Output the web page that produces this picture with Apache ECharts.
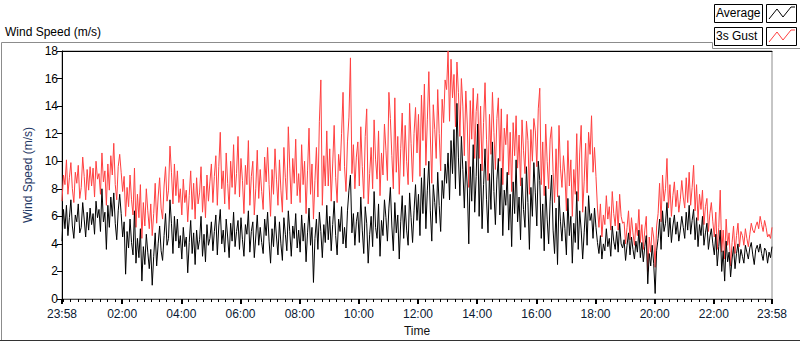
<!DOCTYPE html>
<html>
<head>
<meta charset="utf-8">
<script src="https://cdn.jsdelivr.net/npm/echarts@6/dist/echarts.min.js"></script>
<style>html,body{margin:0;padding:0;background:#fff}#c{width:800px;height:342px}</style>
</head>
<body>
<div id="c"></div>
<script>
// Samples every 3 minutes starting at 23:58 (minute 0) through 23:58 next day (minute 1440)
const startClock = 23 * 60 + 58;
const stepMinutes = 3;
const seriesNames = ['Average', '3s Gust'];
const avgSpeed = [
4.2,6.5,5.1,6.8,4.6,5.9,7.2,5.3,4.4,6.1,5.6,6.9,4.8,5.2,7.0,5.8,4.5,6.3,5.0,6.6,
5.4,6.2,4.7,7.1,5.9,6.5,4.9,8.0,5.6,6.3,3.6,6.8,5.2,7.4,6.0,7.7,5.5,4.3,6.4,7.6,
6.2,4.5,5.6,1.8,4.9,3.7,5.8,4.1,3.2,6.4,2.6,4.4,3.0,5.1,1.3,3.8,2.5,4.7,3.4,2.2,
3.6,1.0,3.1,4.8,2.4,4.0,5.3,3.5,2.8,4.6,6.2,3.9,4.4,7.2,5.5,3.3,6.0,4.2,5.8,3.7,
4.6,2.9,5.2,3.8,4.5,1.9,4.1,5.7,3.3,4.8,2.5,5.0,3.6,4.3,6.0,3.1,4.7,2.7,5.4,3.9,
4.4,5.6,3.5,4.9,6.1,3.2,5.3,6.5,4.0,5.0,3.4,5.8,4.5,3.0,5.5,4.2,6.3,3.8,4.9,5.7,
3.6,5.9,4.3,3.1,5.4,4.7,6.4,3.4,4.9,5.6,3.0,4.5,6.1,3.9,5.2,4.1,3.3,5.8,4.6,6.3,
4.2,2.6,5.1,3.8,6.0,4.5,3.2,5.6,4.0,2.8,5.9,4.7,3.5,6.4,4.9,3.1,5.3,4.4,6.2,3.7,
5.0,3.4,6.1,4.2,5.5,2.7,4.8,6.6,3.9,5.2,1.2,4.4,5.8,3.6,6.3,4.9,3.0,5.4,4.1,6.8,
4.3,6.0,3.5,5.4,7.1,4.6,3.2,5.8,4.9,6.7,4.0,5.2,3.7,6.4,7.9,9.0,4.8,6.2,3.9,5.6,
6.3,4.1,7.4,5.0,3.3,6.7,5.5,2.6,4.7,6.0,3.8,7.8,5.2,4.4,6.9,3.1,5.7,4.6,7.2,5.9,
4.2,6.6,8.1,5.3,3.5,7.0,4.8,6.1,2.9,5.6,7.5,4.4,6.8,5.0,3.9,7.7,5.9,4.1,6.4,8.3,
5.7,7.6,4.6,8.8,6.2,9.5,5.1,7.9,10.0,6.4,4.2,8.3,7.0,5.5,9.2,6.8,4.9,8.6,7.3,9.8,
8.4,10.6,7.2,11.5,9.1,12.3,8.0,14.2,10.3,7.5,11.8,9.4,6.6,10.0,8.2,4.0,9.6,7.1,11.2,6.3,
8.9,12.7,6.0,9.8,5.1,8.3,10.9,7.2,4.8,9.1,6.5,11.4,7.8,5.4,8.7,10.2,6.1,9.5,4.6,7.9,
6.8,9.2,5.0,7.6,3.8,8.5,6.2,10.1,5.6,7.4,4.3,8.8,6.5,5.2,9.6,7.0,3.6,8.1,6.0,9.9,
7.7,5.3,10.0,8.6,4.4,6.9,3.5,8.2,5.8,4.0,7.1,9.0,5.0,3.3,6.6,2.5,7.5,5.6,4.2,6.3,
5.1,3.2,7.3,4.6,6.0,2.6,5.5,4.1,7.8,3.6,6.4,5.0,2.9,4.8,6.7,3.9,7.5,5.7,6.2,4.4,
6.6,5.2,4.1,3.3,4.6,2.9,4.0,3.5,5.1,3.8,4.4,3.1,5.3,4.2,3.6,4.9,3.4,5.5,4.0,3.7,
4.3,2.8,3.9,4.8,3.2,4.5,3.6,2.9,4.2,3.4,5.0,3.0,4.1,2.7,3.8,4.6,1.1,3.3,2.4,3.9,
2.6,0.4,3.5,4.4,5.8,3.6,6.4,4.9,5.5,7.0,4.5,5.9,4.1,5.3,6.1,4.7,5.6,4.2,5.0,6.0,
5.2,4.4,6.3,5.0,6.8,4.7,5.7,6.5,4.3,5.9,3.8,5.4,4.6,6.0,3.9,4.8,5.5,3.6,4.5,5.1,
4.0,3.2,4.7,2.4,3.8,5.0,2.0,3.5,1.3,4.2,2.7,3.4,1.6,2.9,3.8,2.2,3.3,4.0,2.6,3.6,
3.1,2.6,3.9,3.4,2.9,3.7,4.1,3.2,2.5,3.6,3.9,3.4,4.0,3.3,2.8,3.7,3.5,2.6,3.4,3.0,3.8
];
const gustSpeed = [
7.1,9.0,8.3,10.1,7.6,8.8,9.9,8.0,7.0,9.2,8.4,9.7,7.3,8.1,10.3,8.9,7.2,9.4,7.9,9.6,
8.2,9.5,7.4,10.0,8.7,9.1,7.6,10.6,8.5,9.3,6.8,9.8,7.9,10.4,9.0,11.3,8.3,7.2,9.6,10.5,
9.2,7.8,8.9,6.0,8.1,6.7,9.0,7.2,6.1,9.5,5.2,7.6,5.9,8.3,4.4,7.0,5.3,8.0,6.4,5.1,
6.9,4.6,6.2,8.4,5.5,7.4,8.8,6.6,5.8,8.2,9.6,7.1,7.9,11.1,9.2,6.9,9.8,7.5,9.3,7.0,
8.0,6.1,8.7,7.0,7.9,5.6,7.5,9.3,6.5,8.4,5.8,8.8,6.9,7.7,9.6,6.3,8.2,5.9,9.0,7.1,
8.5,9.8,7.0,8.9,10.4,6.8,9.6,12.1,8.0,9.3,6.9,10.6,8.4,6.5,10.0,8.1,11.2,7.6,9.1,11.8,
7.4,10.2,8.6,6.2,9.7,8.3,11.5,6.8,8.9,10.0,6.1,8.0,10.8,7.3,9.4,7.8,6.5,10.3,8.5,11.0,
8.3,6.0,9.4,7.6,10.9,8.7,6.8,10.1,7.9,6.3,11.0,8.8,7.2,12.5,9.5,6.9,10.2,8.4,11.6,7.5,
9.1,7.0,11.2,8.3,10.0,6.2,9.3,12.4,7.6,9.8,5.8,8.6,11.0,7.4,12.9,15.9,6.8,10.4,8.2,12.2,
8.2,10.9,7.1,9.8,12.6,8.8,7.0,10.5,9.3,12.0,15.0,9.6,7.8,11.4,13.2,17.5,9.1,11.2,8.0,10.3,
11.4,8.2,12.5,9.6,7.3,11.8,13.8,6.9,9.1,11.0,8.0,13.0,10.1,8.7,12.2,7.5,10.6,9.0,12.7,10.8,
8.6,15.0,13.1,10.4,8.0,14.6,9.2,11.8,7.6,10.9,13.5,8.9,12.6,10.0,8.3,14.2,11.3,8.5,12.0,13.9,
10.6,13.4,8.9,14.8,11.5,15.6,9.7,13.0,16.5,11.9,8.4,14.1,12.3,10.2,15.2,12.0,9.3,14.5,12.8,15.9,
15.2,18.0,12.9,17.4,14.6,16.3,12.5,17.2,15.0,11.8,16.0,14.0,10.4,15.1,12.7,8.1,14.4,11.6,15.3,10.2,
13.6,14.9,10.2,14.0,9.3,12.8,15.7,11.6,8.6,13.4,10.5,15.0,12.1,9.4,13.1,14.6,10.0,13.8,8.3,12.4,
11.2,13.4,9.0,12.1,7.8,12.8,10.4,13.3,9.5,11.9,8.2,13.0,10.8,9.1,12.9,11.5,7.6,12.3,10.0,13.1,
12.2,9.6,13.8,15.3,8.3,11.4,7.5,12.7,10.0,8.0,11.6,12.5,9.2,7.0,10.9,7.4,12.6,9.5,8.1,10.4,
9.0,6.4,11.5,8.2,10.1,6.0,9.4,7.6,12.0,7.1,10.6,12.6,6.3,8.5,11.3,7.7,12.1,10.5,13.3,9.2,
11.0,8.9,6.6,5.2,6.9,4.5,6.1,5.4,7.5,5.8,6.7,5.0,7.8,6.2,5.3,7.1,5.0,7.6,6.0,5.5,
5.6,4.0,5.2,6.4,4.3,5.9,4.8,3.9,5.5,4.6,6.5,4.1,5.4,3.6,5.0,6.0,2.0,4.5,3.4,5.2,
4.5,2.3,5.3,6.2,8.4,5.6,9.0,7.1,8.0,10.2,6.6,8.3,6.0,7.5,8.5,6.7,7.9,6.3,7.2,8.6,
7.4,6.6,8.8,7.0,9.2,6.8,8.1,9.7,6.4,8.3,5.7,7.6,6.5,7.9,5.4,6.7,7.3,4.9,6.2,7.0,
5.6,4.5,6.3,3.6,5.2,7.9,3.4,5.0,2.9,5.8,3.9,4.8,2.4,4.1,5.3,3.3,4.6,5.5,3.8,4.9,
4.6,3.9,5.1,4.4,3.8,4.7,5.5,5.0,4.8,5.3,5.6,5.1,6.0,5.4,4.9,5.7,5.2,4.5,4.7,4.4,5.2
];
const yTicks = [0, 2, 4, 6, 8, 10, 12, 14, 16, 18];
const majorTickMinutes = [0, 122, 242, 362, 482, 602, 722, 842, 962, 1082, 1202, 1322, 1440];

const minorTickMinutes = [];
for (let m = 2; m < 1440; m += 15) minorTickMinutes.push(m);

function clockLabel(v) {
  const t = ((Math.round(v) + startClock) % 1440 + 1440) % 1440;
  const h = Math.floor(t / 60), m = t % 60;
  return String(h).padStart(2, '0') + ':' + String(m).padStart(2, '0');
}
const toPairs = arr => arr.map((v, i) => [i * stepMinutes, v]);

const FONT = 'Liberation Sans';
const chart = echarts.init(document.getElementById('c'), null, {renderer: 'svg'});
chart.setOption({
  animation: false,
  backgroundColor: '#ffffff',
  grid: {left: 62, right: 28, top: 51, bottom: 39, show: true, borderColor: '#8c8c8c', borderWidth: 1, backgroundColor: '#ffffff'},
  xAxis: [
    {
      type: 'value', min: 0, max: 1440, position: 'bottom',
      name: 'Time', nameLocation: 'middle', nameGap: 26,
      nameTextStyle: {fontFamily: FONT, fontSize: 12, color: '#111'},
      axisLine: {show: true, lineStyle: {color: '#555', width: 1}},
      axisTick: {show: true, length: 5, customValues: majorTickMinutes, lineStyle: {color: '#000', width: 2}},
      axisLabel: {show: true, customValues: majorTickMinutes, formatter: clockLabel, margin: 9,
        fontFamily: FONT, fontSize: 12, color: '#0a1a33', showMinLabel: true, showMaxLabel: true},
      splitLine: {show: false}
    },
    {
      type: 'value', min: 0, max: 1440, position: 'bottom',
      axisLine: {show: false},
      axisTick: {show: true, length: 3, customValues: minorTickMinutes, lineStyle: {color: '#000', width: 1}},
      axisLabel: {show: false},
      splitLine: {show: false}
    },
    {
      type: 'value', min: 0, max: 1440, position: 'top',
      axisLine: {show: true, lineStyle: {color: '#000', width: 1}},
      axisTick: {show: false}, axisLabel: {show: false}, splitLine: {show: false}
    }
  ],
  yAxis: {
    type: 'value', min: 0, max: 18, interval: 2,
    name: 'Wind Speed (m/s)', nameLocation: 'middle', nameGap: 23, nameRotate: 90,
    nameTextStyle: {fontFamily: FONT, fontSize: 12, color: '#1f3864'},
    axisLine: {show: true, lineStyle: {color: '#000', width: 1}},
    axisTick: {show: true, length: 5, lineStyle: {color: '#000'}},
    axisLabel: {margin: 4, fontFamily: FONT, fontSize: 12, color: '#000',
      customValues: yTicks},
    splitLine: {show: false}
  },
  series: [
    {
      name: seriesNames[1], type: 'line', xAxisIndex: 0, showSymbol: false, symbol: 'none',
      data: toPairs(gustSpeed), lineStyle: {color: '#ff4040', width: 1}, itemStyle: {color: '#ff4040'}, z: 2
    },
    {
      name: seriesNames[0], type: 'line', xAxisIndex: 0, showSymbol: false, symbol: 'none',
      data: toPairs(avgSpeed), lineStyle: {color: '#000000', width: 1}, itemStyle: {color: '#000'}, z: 3
    }
  ],
  graphic: [
    {type: 'polyline', shape: {points: [[1.5, 340], [1.5, 42.5], [712.5, 42.5], [712.5, 48.5], [800, 48.5]]},
      style: {stroke: '#8c8c8c', fill: null, lineWidth: 1}, silent: true},
    {type: 'line', shape: {x1: 0, y1: 340.5, x2: 800, y2: 340.5}, style: {stroke: '#333', lineWidth: 1}},
    {type: 'text', left: 5, top: 26, style: {text: 'Wind Speed (m/s)', fontFamily: FONT, fontSize: 12, fill: '#000'}},
    {type: 'rect', shape: {x: 714.5, y: 4.5, width: 48, height: 18}, style: {stroke: '#000', fill: '#fff', lineWidth: 1}},
    {type: 'text', left: 716, top: 7, style: {text: seriesNames[0], fontFamily: FONT, fontSize: 12, fill: '#000'}},
    {type: 'rect', shape: {x: 766.5, y: 4.5, width: 30, height: 18}, style: {stroke: '#000', fill: '#fff', lineWidth: 1}},
    {type: 'polyline', shape: {points: [[769, 19], [777, 9], [783, 17], [791, 7], [795, 7]]}, style: {stroke: '#000', fill: null, lineWidth: 1}},
    {type: 'rect', shape: {x: 714.5, y: 27.5, width: 48, height: 18}, style: {stroke: '#000', fill: '#fff', lineWidth: 1}},
    {type: 'text', left: 716, top: 30, style: {text: seriesNames[1], fontFamily: FONT, fontSize: 12, fill: '#000'}},
    {type: 'rect', shape: {x: 766.5, y: 27.5, width: 30, height: 18}, style: {stroke: '#000', fill: '#fff', lineWidth: 1}},
    {type: 'polyline', shape: {points: [[769, 42], [777, 32], [783, 40], [791, 30], [795, 30]]}, style: {stroke: '#ff4040', fill: null, lineWidth: 1}}
  ]
});
</script>
</body>
</html>
